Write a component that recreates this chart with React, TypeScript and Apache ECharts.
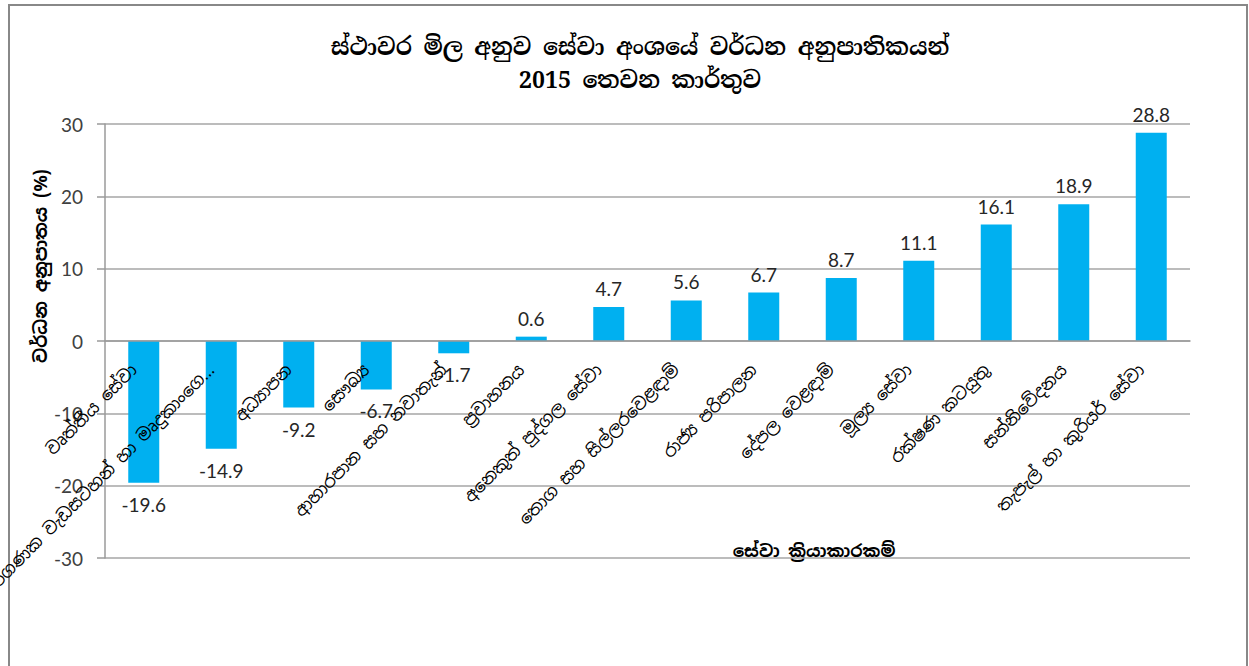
import React, { useEffect, useRef } from "react";
import * as echarts from "echarts";

const categories = [
  "වෘත්තීය සේවා",
  "පරිගණක වැඩසටහන් හා මෘදුකාංගෙ…",
  "අධ්‍යාපන",
  "සෞඛ්‍ය",
  "ආහාරපාන සහ නවාතැන්",
  "ප්‍රවාහනය",
  "අනෙකුත් පුද්ගල සේවා",
  "තොග සහ සිල්ලරවෙළඳාම්",
  "රාජ්‍ය පරිපාලන",
  "දේපල වෙළඳාම්",
  "මූල්‍ය සේවා",
  "රක්ෂණ කටයුතු",
  "සන්නිවේදනය",
  "තැපැල් හා කුරියර් සේවා",
];
const values = [-19.6, -14.9, -9.2, -6.7, -1.7, 0.6, 4.7, 5.6, 6.7, 8.7, 11.1, 16.1, 18.9, 28.8];
const yTicks = { min: -30, max: 30, interval: 10 };
const titleLine1 = "ස්ථාවර මිල අනුව සේවා අංශයේ වර්ධන අනුපාතිකයන්";
const titleLine2 = "2015 තෙවන කාර්තුව";
const yAxisName = "වර්ධන අනුපාතය (%)";
const xAxisName = "සේවා ක්‍රියාකාරකම්";

const SANS = "'Noto Sans Sinhala', 'Iskoola Pota', Lato, 'Open Sans', sans-serif";
const SERIF = "'Noto Serif Sinhala', 'Iskoola Pota', 'Liberation Serif', serif";

const GRID = { left: 105, right: 59, top: 124, bottom: 108 };
const PLOT_H = 666 - GRID.top - GRID.bottom;

export default function App() {
  const ref = useRef<HTMLDivElement>(null);
  useEffect(() => {
    if (!ref.current) return;
    const chart = echarts.init(ref.current, undefined, { renderer: "svg" });
    // place category axis at the value zero (Excel-like "axis crosses at 0")
    const zeroOffset = -PLOT_H * ((0 - yTicks.min) / (yTicks.max - yTicks.min));
    chart.setOption({
      animation: false,
      backgroundColor: "#ffffff",
      title: {
        text: titleLine1 + "\n" + titleLine2,
        left: 635,
        top: 25,
        textAlign: "center",
        textStyle: {
          fontFamily: SERIF,
          fontSize: 23,
          fontWeight: "bold",
          color: "#000",
          lineHeight: 33,
        },
      },
      grid: { ...GRID, containLabel: false, outerBoundsMode: "none" },
      xAxis: {
        type: "category",
        data: categories,
        position: "bottom",
        offset: zeroOffset,
        axisLine: { onZero: false, lineStyle: { color: "#9a9a9a", width: 1.5 } },
        axisTick: { show: false },
        axisLabel: {
          interval: 0,
          rotate: 45,
          margin: 16,
          padding: [0, 14, 0, 0],
          fontSize: 17,
          color: "#000",
          fontFamily: SANS,
        },
        z: 5,
      },
      yAxis: {
        type: "value",
        min: yTicks.min,
        max: yTicks.max,
        interval: yTicks.interval,
        axisLine: { show: true, lineStyle: { color: "#9a9a9a", width: 1.5 } },
        axisTick: { show: true, length: 8, lineStyle: { color: "#9a9a9a", width: 1.5 } },
        splitLine: { lineStyle: { color: "#a6a6a6", width: 1.5 } },
        axisLabel: { fontSize: 19, color: "#404040", margin: 22, fontFamily: "Lato, 'Open Sans', sans-serif" },
      },
      series: [
        {
          type: "bar",
          barWidth: 31,
          itemStyle: { color: "#00B0F0" },
          data: values.map((v) => ({
            value: v,
            label: {
              show: true,
              position: v < 0 ? "bottom" : "top",
              distance: v < 0 ? 12 : 9,
              fontSize: 19,
              color: "#262626",
              fontFamily: "Lato, 'Open Sans', sans-serif",
            },
          })),
        },
      ],
      graphic: [
        {
          type: "rect",
          shape: { x: 9, y: 5, width: 1238, height: 700 },
          style: { fill: "none", stroke: "#888", lineWidth: 2 },
          silent: true,
        },
        {
          type: "text",
          x: 40,
          y: 266,
          rotation: Math.PI / 2,
          style: {
            text: yAxisName,
            fontSize: 18,
            fontWeight: "bold",
            fontFamily: SANS,
            fill: "#000",
            textAlign: "center",
            textVerticalAlign: "middle",
          },
        },
        {
          type: "text",
          x: 814,
          y: 551,
          style: {
            text: xAxisName,
            fontSize: 17,
            fontWeight: "bold",
            fontFamily: SANS,
            fill: "#000",
            textAlign: "center",
            textVerticalAlign: "middle",
          },
        },
      ],
    });
    return () => chart.dispose();
  }, []);
  return (
    <div
      ref={ref}
      style={{ position: "fixed", left: 0, top: 0, width: 1249, height: 666 }}
    />
  );
}
